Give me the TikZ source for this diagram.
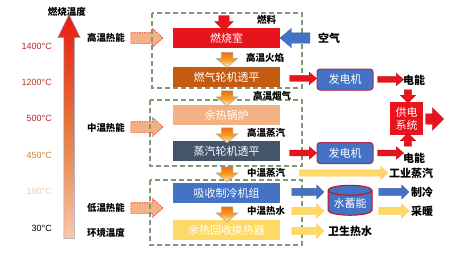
\documentclass[tikz,border=0pt]{standalone}
\usepackage{fontspec}
\setmainfont{Noto Sans CJK SC}
\newfontfamily\lat{Liberation Sans}
\usetikzlibrary{shapes.arrows,shapes.geometric}
\definecolor{cRed}{RGB}{232,20,28}
\definecolor{cBrown}{HTML}{C55A11}
\definecolor{cPeach}{HTML}{F4B183}
\definecolor{cSlate}{HTML}{44546A}
\definecolor{cBlue}{HTML}{4472C4}
\definecolor{cYel}{HTML}{FFD966}
\definecolor{cDash}{RGB}{130,150,120}
\definecolor{cOr}{RGB}{238,110,10}
\definecolor{cOrM}{RGB}{246,160,40}
\definecolor{cOrL}{RGB}{255,244,210}
\definecolor{cGenB}{RGB}{170,40,80}
\begin{document}
\begin{tikzpicture}[x=1pt,y=-1pt,
  box/.style={minimum width=107pt, minimum height=20pt, text=white, inner sep=0pt, font=\fontsize{11}{13}\selectfont},
  grp/.style={draw=cDash, dash pattern=on 5pt off 3pt, line width=1.1pt},
  arr/.style args={#1/#2/#3}{single arrow, inner xsep=0pt, inner ysep={(#2)*0.5}, single arrow head indent=0pt, minimum height=#1, single arrow head extend={((#3)-(#2))*0.5}},
  varr/.style args={#1/#2/#3}{single arrow, inner ysep=0pt, inner xsep={(#2)*0.5}, single arrow head indent=0pt, minimum height=#1, single arrow head extend={((#3)-(#2))*0.5}},
  grad/.style={varr={15pt/11/21}, shape border rotate=270, single arrow tip angle=100, top color=cOr, bottom color=cOrL, middle color=cOrM, draw=black!35, line width=0.5pt},
  redarr/.style={fill=cRed, draw=cRed!80!black, line width=0.3pt},
  yelarr/.style={fill=cYel, draw=cYel!85!orange, line width=0.4pt},
  bluarr/.style={fill=cBlue, draw=cBlue!85!black, line width=0.3pt},
  dasharr/.style={arr={32pt/10/18}, fill=cPeach, draw=cRed!80!orange, dash pattern=on 1.5pt off 1pt, line width=0.6pt, single arrow tip angle=84},
  lbl/.style={inner sep=0pt, font=\fontsize{9.5}{11}\selectfont\bfseries},
  olbl/.style={inner sep=0pt, font=\fontsize{11}{13}\selectfont\bfseries},
  tmp/.style={inner sep=0pt, anchor=east, font=\lat\fontsize{9}{11}\selectfont}
]
\useasboundingbox (0,0) rectangle (459,258);
\fill[white] (0,0) rectangle (459,258);

% temperature axis
\node[varr={224pt/10/22}, shape border rotate=90, single arrow tip angle=52,
  top color={rgb,255:red,232;green,26;blue,16}, bottom color={rgb,255:red,248;green,200;blue,168},
  middle color={rgb,255:red,228;green,120;blue,60}, draw={rgb,255:red,150;green,160;blue,190}, line width=0.5pt] (tarr) at (69,132) {};
\node[lbl] (ttl) at (67,12) {燃烧温度};
\node[tmp, text={rgb,255:red,192;green,40;blue,42}] (t1) at (52,46) {1400°C};
\node[tmp, text={rgb,255:red,192;green,57;blue,43}] (t2) at (52,82) {1200°C};
\node[tmp, text={rgb,255:red,192;green,40;blue,42}] (t3) at (52,118) {500°C};
\node[tmp, text={rgb,255:red,208;green,128;blue,58}] (t4) at (52,155) {450°C};
\node[tmp, text={rgb,255:red,240;green,200;blue,184}] (t5) at (52,191) {180°C};
\node[tmp, text=black] (t6) at (52,228) {30°C};

% left energy labels
\node[lbl] (hh) at (106,38) {高温热能};
\node[lbl] (mh) at (106,128) {中温热能};
\node[lbl] (lh) at (106,208) {低温热能};
\node[lbl] (env) at (106,233) {环境温度};
\node[dasharr] (da1) at (144,38) {};
\node[dasharr] (da2) at (144,127) {};
\node[dasharr] (da3) at (144,208) {};

% groups
\draw[grp] (152,13) rectangle (302,88);
\draw[grp] (150,100) rectangle (302,166);
\draw[grp] (150,180) rectangle (302,245);

% main boxes
\node[box, fill=cRed] (burn) at (226.5,38) {燃烧室};
\node[box, fill=cBrown] (gt) at (226.5,77) {燃气轮机透平};
\node[box, fill=cPeach] (hrsg) at (226.5,115) {余热锅炉};
\node[box, fill=cSlate] (st) at (226.5,151) {蒸汽轮机透平};
\node[box, fill=cBlue] (abs) at (226.5,193) {吸收制冷机组};
\node[box, fill=cYel] (hx) at (226.5,230) {余热回收换热器};

% flow arrows between boxes
\node[grad] (a12) at (227,57.5) {};
\node[grad] (a23) at (227,96) {};
\node[grad] (a34) at (227,133) {};
\node[grad] (a45) at (227,172) {};
\node[grad] (a56) at (227,212) {};
\node[lbl, anchor=west] (l12) at (246,58) {高温火焰};
\node[lbl, anchor=west] (l23) at (253,96) {高温烟气};
\node[lbl, anchor=west] (l34) at (247,133) {高温蒸汽};
\node[lbl, anchor=west] (l45) at (247,173) {中温蒸汽};
\node[lbl, anchor=west] (l56) at (247,211) {中温热水};

% fuel and air
\node[varr={15pt/10/18}, shape border rotate=270, redarr] (fuel) at (224,20.5) {};
\node[lbl, anchor=west] (lfuel) at (257,20) {燃料};
\node[arr={30pt/10/19}, shape border rotate=180, single arrow tip angle=80, bluarr] (air) at (298,38) {};
\node[olbl, anchor=west] (lair) at (318,38) {空气};

% generators
\node[minimum width=56pt, minimum height=21pt, rounded corners=3pt, fill=cBlue, draw=cGenB, line width=1pt, inner sep=0pt, text=white, font=\fontsize{11}{13}\selectfont] (g1) at (345,79.5) {发电机};
\node[minimum width=56pt, minimum height=21pt, rounded corners=3pt, fill=cBlue, draw=cGenB, line width=1pt, inner sep=0pt, text=white, font=\fontsize{11}{13}\selectfont] (g2) at (345,153) {发电机};
\node[arr={27pt/5.5/12}, single arrow tip angle=80, redarr] (r1) at (301.5,78.5) {};
\node[arr={27pt/5.5/12}, single arrow tip angle=80, redarr] (r2) at (301.5,153) {};
\node[arr={26pt/5.5/12}, single arrow tip angle=80, redarr] (r3) at (389,79.5) {};
\node[arr={26pt/5.5/12}, single arrow tip angle=80, redarr] (r4) at (389,153) {};
\node[olbl, anchor=west] (e1) at (403,80) {电能};
\node[olbl, anchor=west] (e2) at (403,158) {电能};

% power supply system
\node[minimum width=33pt, minimum height=33pt, fill=cRed, inner sep=0pt, text=white, align=center, font=\fontsize{11}{13}\selectfont] (ps) at (406.5,118.5) {供电\\系统};
\node[varr={13pt/7/15}, shape border rotate=270, redarr] (d1) at (408,94.5) {};
\node[varr={13pt/7/15}, shape border rotate=90, redarr] (u1) at (408,141.5) {};
\node[arr={18pt/10/22}, redarr] (po) at (432,119) {};

% low temperature outputs
\node[arr={88pt/6/13}, yelarr] (ys) at (342,173) {};
\node[olbl, anchor=west] (lind) at (389,173) {工业蒸汽};
\node[arr={32pt/7/14}, bluarr] (b1) at (306,192) {};
\node[arr={32pt/7/14}, yelarr] (y1) at (306,211) {};
\node[arr={32pt/7/14}, yelarr] (y2) at (306,231) {};
\node[olbl, anchor=west] (lsan) at (328,231) {卫生热水};
\node[cylinder, shape border rotate=90, aspect=0.3, minimum width=44pt, minimum height=30pt, fill=cBlue, draw=cRed!85!black, line width=1pt, inner sep=0pt, text=white, font=\fontsize{11}{13}\selectfont] (tank) at (350,203) {水蓄能};
\node[arr={30pt/7/14}, bluarr] (b2) at (392,192) {};
\node[arr={30pt/7/14}, yelarr] (y3) at (392,211) {};
\node[olbl, anchor=west] (lcool) at (411,192) {制冷};
\node[olbl, anchor=west] (lheat) at (411,211) {采暖};
\end{tikzpicture}
\end{document}
